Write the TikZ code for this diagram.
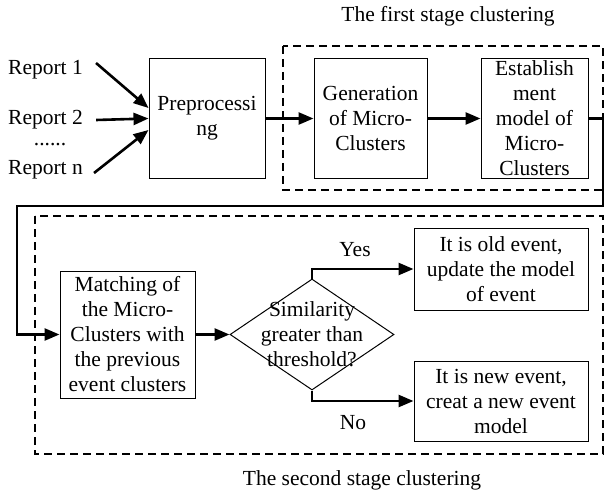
\documentclass[tikz,border=0pt]{standalone}
\usepackage{fontspec}
\setmainfont{Liberation Serif}
\usetikzlibrary{arrows.meta,shapes.geometric}
\begin{document}
\begin{tikzpicture}[x=1pt,y=-1pt,
  every node/.style={font=\fontsize{21.5}{25}\selectfont},
  box/.style={draw, line width=1pt, inner sep=0pt},
  txt/.style={align=center, inner sep=0pt},
  arr/.style={line width=2.6pt, -{Triangle[length=15pt,width=12pt]}},
  frame/.style={line width=2.4pt, dash pattern=on 8pt off 5pt}]
\useasboundingbox (0,0) rectangle (605,492);

% frames
\draw[frame] (283,46) rectangle (603,190);
\draw[frame] (35,216) rectangle (603,454);
\node[txt] (t1) at (448,16) {The first stage clustering};
\node[txt] (t2) at (362,480) {The second stage clustering};

% inputs
\node[txt, anchor=west] (r1) at (8,70) {Report 1};
\node[txt, anchor=west] (r2) at (8,120) {Report 2};
\node[txt, anchor=base, text height=3pt, text depth=0pt] (dots) at (50,146) {......};
\node[txt, anchor=west] (rn) at (8,170) {Report n};

% first row
\node[box, minimum width=116pt, minimum height=119pt] (pre) at (207,118.5) {};
\node[txt] (preT) at (207,118.5) {Preprocessi\\ng};
\node[box, minimum width=113pt, minimum height=119pt] (gen) at (370.5,118.5) {};
\node[txt] (genT) at (370.5,118.5) {Generation\\of Micro-\\Clusters};
\node[box, minimum width=107pt, minimum height=119pt] (est) at (534.5,118.5) {};
\node[txt] (estT) at (534.5,118.5) {Establish\\ment\\model of\\Micro-\\Clusters};

% second row
\node[box, minimum width=135pt, minimum height=127pt] (match) at (127.5,334.5) {};
\node[txt] (matchT) at (127.5,334.5) {Matching of\\the Micro-\\Clusters with\\the previous\\event clusters};
\node[box, diamond, minimum width=164pt, minimum height=111pt] (dec) at (312,334.5) {};
\node[txt] (decT) at (312,334.5) {Similarity\\greater than\\threshold?};
\node[box, minimum width=174pt, minimum height=82pt] (old) at (501,269) {};
\node[txt] (oldT) at (501,269) {It is old event,\\update the model\\of event};
\node[box, minimum width=174pt, minimum height=80pt] (new) at (501,401) {};
\node[txt] (newT) at (501,401) {It is new event,\\creat a new event\\model};
\node[txt] (yes) at (355,250) {Yes};
\node[txt] (no) at (353,423) {No};

% connectors
\draw[arr] ([xshift=13pt,yshift=7pt]r1.east) -- ([yshift=10.5pt]pre.west);
\draw[arr] ([xshift=13pt]r2.east) -- (pre.west);
\draw[arr] ([xshift=11pt,yshift=-3pt]rn.east) -- ([yshift=-11.5pt]pre.west);
\draw[arr] (pre.east) -- (gen.west);
\draw[arr] (gen.east) -- (est.west);
\coordinate (c1) at (603,206);
\coordinate (c2) at (17,206);
\draw[arr] (est.east) -| (c1) -- (c2) |- (match.west);
\draw[arr] (match.east) -- (dec.west);
\draw[arr] (dec.north) |- (old.west);
\draw[arr] (dec.south) |- (new.west);
\end{tikzpicture}
\end{document}
